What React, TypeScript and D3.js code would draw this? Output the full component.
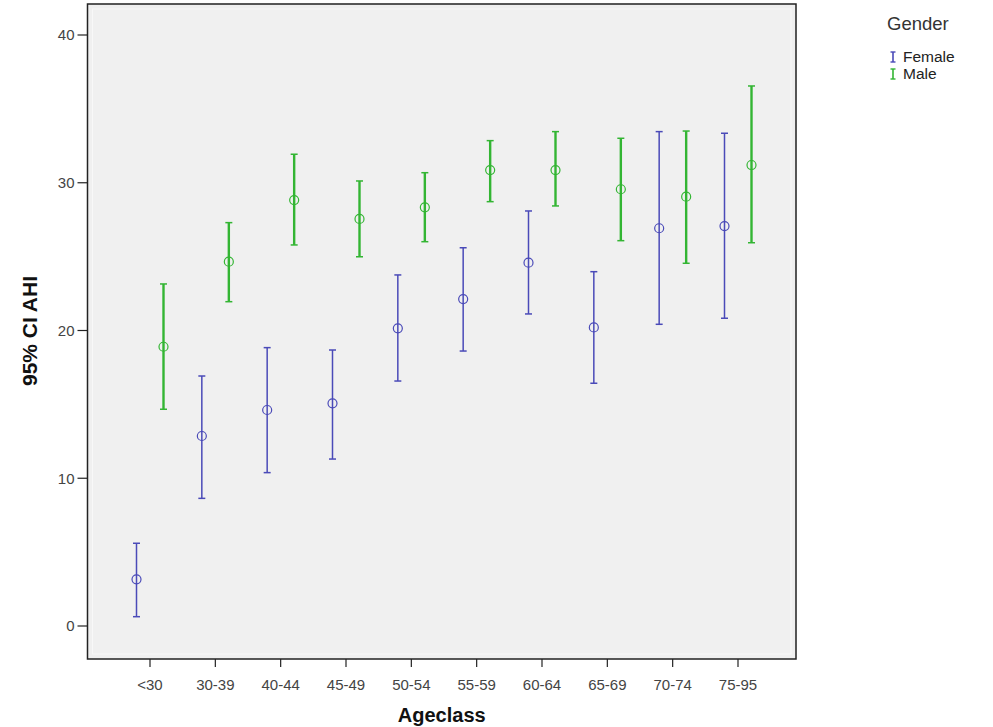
import React from "react";
import * as d3 from "d3";

const categories = ["<30", "30-39", "40-44", "45-49", "50-54", "55-59", "60-64", "65-69", "70-74", "75-95"];
const femaleMean = [3.16, 12.86, 14.62, 15.07, 20.15, 22.13, 24.59, 20.21, 26.92, 27.07];
const femaleLow = [0.63, 8.64, 10.38, 11.3, 16.58, 18.61, 21.12, 16.43, 20.42, 20.83];
const femaleHigh = [5.6, 16.92, 18.84, 18.68, 23.76, 25.6, 28.09, 23.98, 33.46, 33.35];
const maleMean = [18.9, 24.66, 28.83, 27.55, 28.34, 30.86, 30.86, 29.56, 29.06, 31.2];
const maleLow = [14.67, 21.95, 25.79, 24.99, 26.01, 28.72, 28.43, 26.08, 24.55, 25.94];
const maleHigh = [23.15, 27.3, 31.93, 30.12, 30.68, 32.85, 33.46, 33.01, 33.5, 36.55];
const yTicks = [0, 10, 20, 30, 40];
const seriesNames = ["Female", "Male"];

const W = 993;
const H = 727;
const frame = { left: 87.5, top: 4, right: 796, bottom: 659 };
const colors = ["#4a4ab8", "#33b533"];
const FONT = "Arial, 'Liberation Sans', sans-serif";

export default function App() {
  const x = d3.scalePoint<string>().domain(categories).range([150, 738]);
  const y = d3.scaleLinear().domain([0, 40]).range([626, 35]);
  const offset = 13.5;

  const series = [
    { name: seriesNames[0], mean: femaleMean, lo: femaleLow, hi: femaleHigh, dx: -offset, color: colors[0], sw: 1.5 },
    { name: seriesNames[1], mean: maleMean, lo: maleLow, hi: maleHigh, dx: offset, color: colors[1], sw: 2.4 },
  ];

  return (
    <svg width={W} height={H} style={{ position: "absolute", left: 0, top: 0, background: "#fff" }}>
      <rect
        x={frame.left}
        y={frame.top}
        width={frame.right - frame.left}
        height={frame.bottom - frame.top}
        fill="#f0f0f0"
      />
      <rect
        x={frame.left + 5}
        y={frame.top + 5}
        width={frame.right - frame.left - 10}
        height={frame.bottom - frame.top - 10}
        fill="none"
        stroke="#f8f8f8"
        strokeWidth={1}
      />
      {series.map((s) =>
        categories.map((c, i) => {
          const cx = (x(c) as number) + s.dx;
          return (
            <g key={s.name + c}>
              <line x1={cx} x2={cx} y1={y(s.lo[i])} y2={y(s.hi[i])} stroke={s.color} strokeWidth={s.sw} />
              <line x1={cx - 3.5} x2={cx + 3.5} y1={y(s.lo[i])} y2={y(s.lo[i])} stroke={s.color} strokeWidth={1.5} />
              <line x1={cx - 3.5} x2={cx + 3.5} y1={y(s.hi[i])} y2={y(s.hi[i])} stroke={s.color} strokeWidth={1.5} />
              <circle cx={cx} cy={y(s.mean[i])} r={4.5} fill="none" stroke={s.color} strokeWidth={1.2} />
            </g>
          );
        })
      )}
      <rect
        x={frame.left}
        y={frame.top}
        width={frame.right - frame.left}
        height={frame.bottom - frame.top}
        fill="none"
        stroke="#222"
        strokeWidth={1.5}
      />
      {yTicks.map((t) => (
        <g key={t}>
          <line x1={frame.left - 10} x2={frame.left} y1={y(t)} y2={y(t)} stroke="#222" strokeWidth={1.2} />
          <text x={frame.left - 13} y={y(t)} dy="0.35em" textAnchor="end" fontFamily={FONT} fontSize={15} fill="#444">
            {t}
          </text>
        </g>
      ))}
      {categories.map((c) => (
        <g key={c}>
          <line x1={x(c)} x2={x(c)} y1={frame.bottom} y2={frame.bottom + 8} stroke="#222" strokeWidth={1.2} />
          <text x={x(c)} y={frame.bottom + 31} textAnchor="middle" fontFamily={FONT} fontSize={15} fill="#444">
            {c}
          </text>
        </g>
      ))}
      <text
        x={(frame.left + frame.right) / 2}
        y={722}
        textAnchor="middle"
        fontFamily={FONT}
        fontSize={20}
        fontWeight="bold"
        fill="#111"
      >
        Ageclass
      </text>
      <text
        transform={`translate(37, 331) rotate(-90)`}
        textAnchor="middle"
        fontFamily={FONT}
        fontSize={21}
        fontWeight="bold"
        fill="#111"
      >
        95% CI AHI
      </text>
      <text x={887} y={30} fontFamily={FONT} fontSize={18.5} fill="#333">
        Gender
      </text>
      {series.map((s, k) => {
        const ly = 57 + k * 17;
        return (
          <g key={s.name}>
            <line x1={893} x2={893} y1={ly - 5} y2={ly + 5} stroke={s.color} strokeWidth={1.6} />
            <line x1={890.5} x2={895.5} y1={ly - 5} y2={ly - 5} stroke={s.color} strokeWidth={1.4} />
            <line x1={890.5} x2={895.5} y1={ly + 5} y2={ly + 5} stroke={s.color} strokeWidth={1.4} />
            <text x={903} y={ly} dy="0.35em" fontFamily={FONT} fontSize={15.5} fill="#222">
              {s.name}
            </text>
          </g>
        );
      })}
    </svg>
  );
}
